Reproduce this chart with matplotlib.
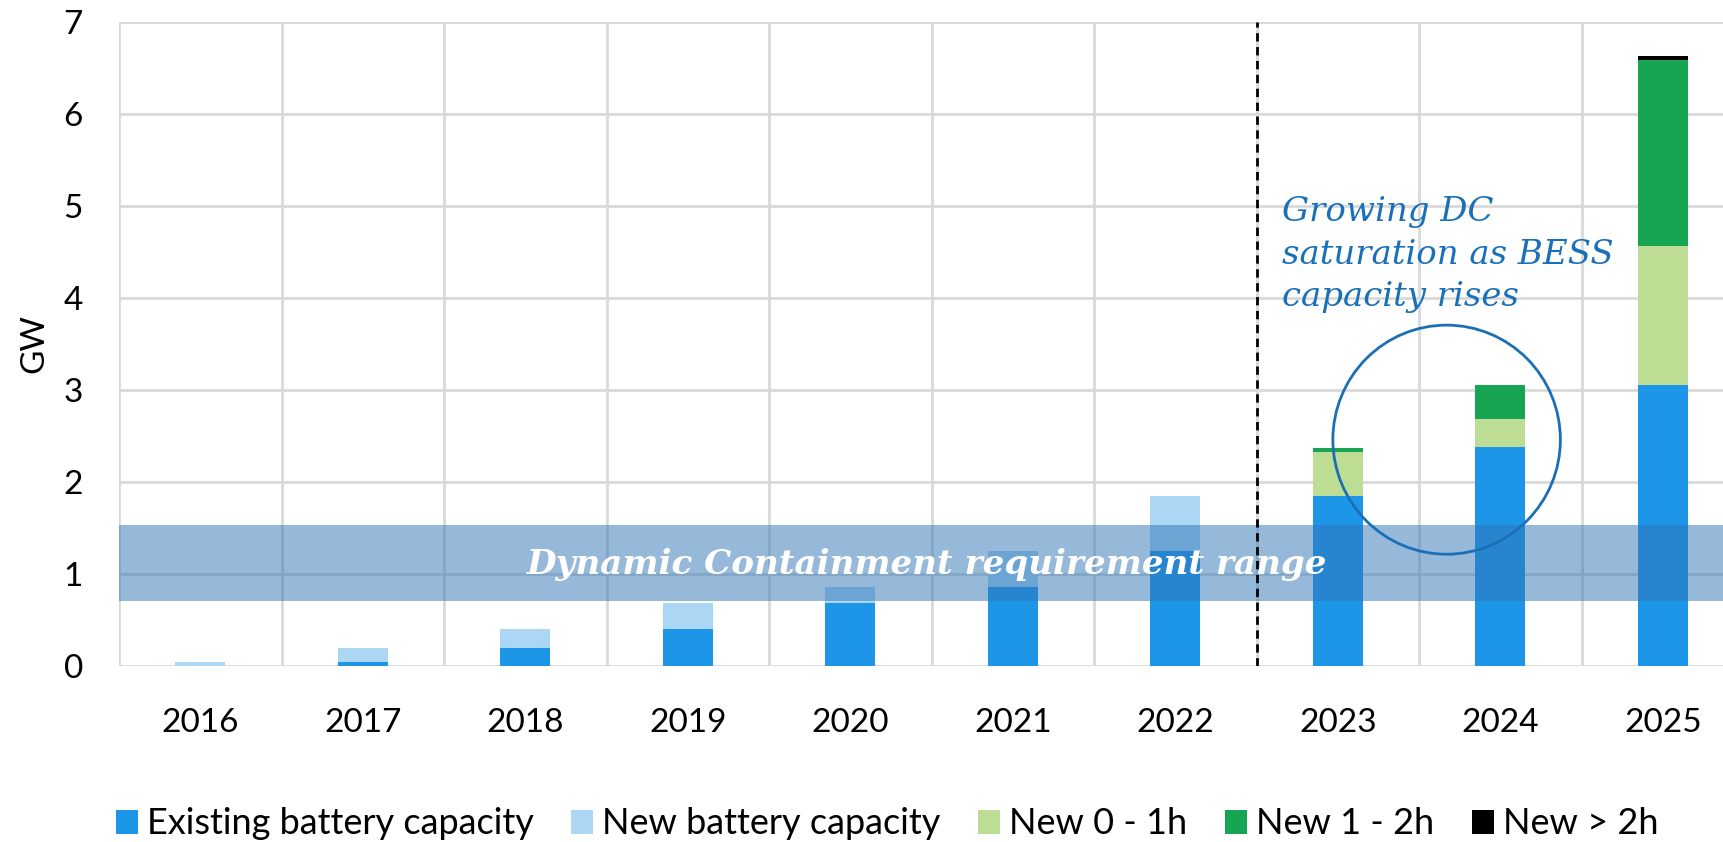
import numpy as np
import matplotlib
matplotlib.use("Agg")
import matplotlib.pyplot as plt
from matplotlib.patches import Ellipse, Patch

years = ["2016", "2017", "2018", "2019", "2020", "2021", "2022", "2023", "2024", "2025"]
existing = [0.0, 0.04, 0.20, 0.40, 0.69, 0.86, 1.25, 1.85, 2.38, 3.05]
new_cap = [0.04, 0.16, 0.20, 0.29, 0.17, 0.39, 0.60, 0.0, 0.0, 0.0]
new_0_1h = [0, 0, 0, 0, 0, 0, 0, 0.48, 0.31, 1.52]
new_1_2h = [0, 0, 0, 0, 0, 0, 0, 0.04, 0.36, 2.02]
new_gt2h = [0, 0, 0, 0, 0, 0, 0, 0.0, 0.0, 0.04]
series_names = ["Existing battery capacity", "New battery capacity", "New 0 - 1h", "New 1 - 2h", "New > 2h"]
series_colors = ["#1e96e8", "#abd7f4", "#bddc94", "#18a553", "#000000"]
dc_range = (0.71, 1.53)
yticks = [0, 1, 2, 3, 4, 5, 6, 7]

plt.rcParams['font.family'] = ['Lato', 'DejaVu Sans']

fig = plt.figure(figsize=(17.24, 8.42), dpi=100)
ax = fig.add_axes([119/1724, 176/842, 1625/1724, 644/842])

x = np.arange(len(years))
bottom = np.zeros(len(years))
for vals, name, col in zip([existing, new_cap, new_0_1h, new_1_2h, new_gt2h], series_names, series_colors):
    v = np.array(vals, dtype=float)
    ax.bar(x, v, width=0.31, bottom=bottom, color=col, label=name, zorder=2, linewidth=0)
    bottom += v

ax.axhspan(dc_range[0], dc_range[1], color="#2e75b6", alpha=0.5, lw=0, zorder=3)
ax.text(4.47, 1.1, "Dynamic Containment requirement range", color="white",
        family="DejaVu Serif", style="italic", weight="bold", fontsize=24.6,
        ha="center", va="center", zorder=4)

ax.axvline(6.5, color="black", ls=(0, (3, 2)), lw=2, zorder=4)

ax.add_patch(Ellipse((7.67, 2.46), 1.40, 2.49, fill=False, ec="#1b6fb5", lw=2, zorder=5))
ax.text(6.66, 4.47, "Growing DC\nsaturation as BESS\ncapacity rises", color="#1a70b8",
        family="DejaVu Serif", style="italic", fontsize=24.5, ha="left", va="center",
        linespacing=1.42, zorder=5)

ax.set_xlim(-0.5, 9.5)
ax.set_ylim(0, 7)
ax.set_yticks(yticks)
ax.set_yticklabels([str(t) for t in yticks])
ax.set_xticks(x)
ax.set_xticklabels(years)
ax.set_xticks(np.arange(-0.5, 10, 1), minor=True)
ax.tick_params(axis="both", which="both", length=0, labelsize=24, colors="black")
ax.tick_params(axis="y", pad=26)
ax.tick_params(axis="x", pad=30)
ax.grid(True, axis="y", which="major", color="#d9d9d9", lw=2, zorder=0)
ax.grid(True, axis="x", which="minor", color="#d9d9d9", lw=2, zorder=0)
ax.grid(False, axis="x", which="major")
for s in ax.spines.values():
    s.set_visible(False)
ax.set_axisbelow(True)

ax.set_ylabel("GW", fontsize=24, labelpad=10)

handles = [Patch(facecolor=c, edgecolor="none") for c in series_colors]
fig.legend(handles, series_names, ncol=5, loc="center", bbox_to_anchor=(887/1724, 18/842),
           frameon=False, fontsize=26, handlelength=0.6, handleheight=0.65,
           handletextpad=0.25, columnspacing=1.05, borderaxespad=0)

fig.savefig("out.png", dpi=100)
